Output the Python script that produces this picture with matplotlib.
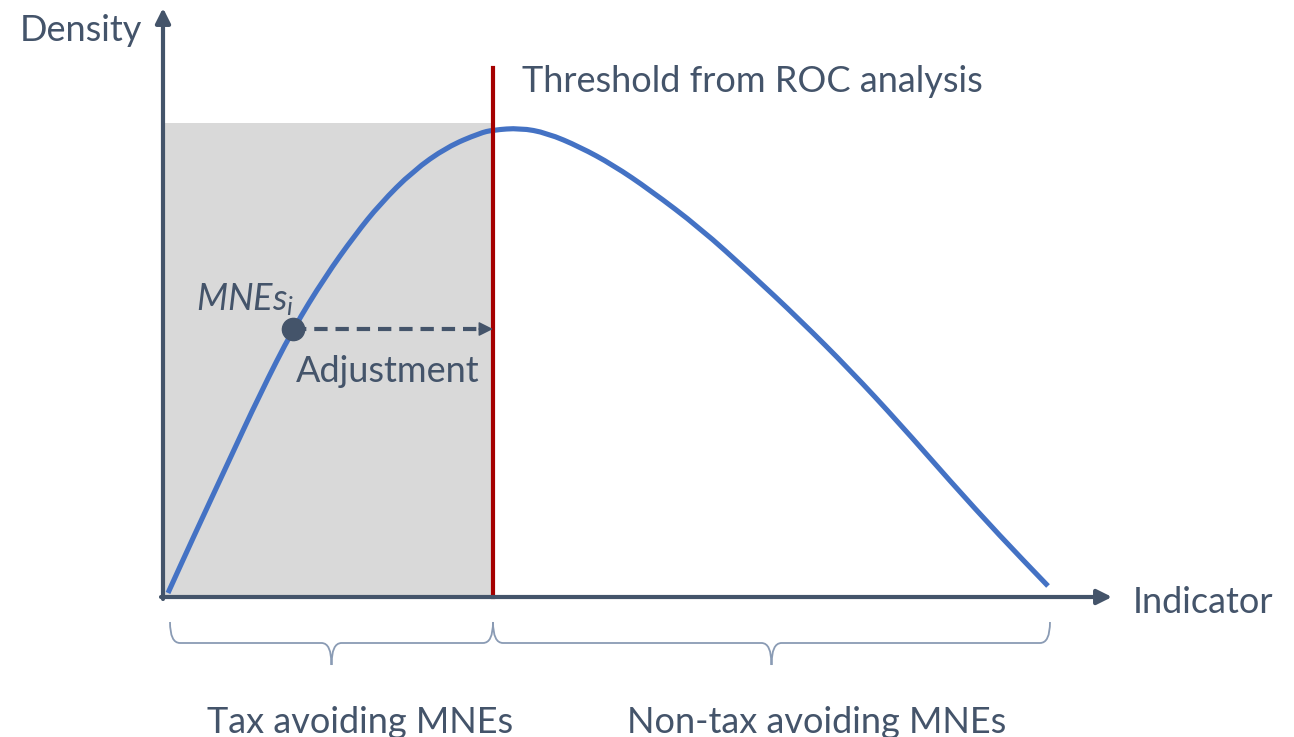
import matplotlib
matplotlib.use("Agg")
import matplotlib.pyplot as plt
from matplotlib.path import Path
from matplotlib.patches import PathPatch, Rectangle

plt.rcParams['font.family'] = ['Lato', 'DejaVu Sans']
plt.rcParams['mathtext.fontset'] = 'custom'
plt.rcParams['mathtext.rm'] = 'Lato'
plt.rcParams['mathtext.it'] = 'Lato:italic'

# ---- data (indicator vs density, schematic units) ----
indicator = [5, 30, 64, 97, 130, 162, 192, 217, 250, 284, 317, 330, 357, 384,
             417, 450, 487, 537, 587, 637, 687, 737, 787, 837, 885]
density = [4, 59, 132, 203, 268, 320, 362, 393, 426, 450, 464, 467, 469, 464,
           450, 432, 407, 369, 324, 277, 227, 173, 116, 61, 11]
threshold = 330
shade_top = 474
mne_point = (130, 268)
x_axis_end = 949
y_axis_end = 589
groups = ["Tax avoiding MNEs", "Non-tax avoiding MNEs"]
group_spans = [(7, 330), (330, 887)]

TXT = '#44546A'
BLUE = '#4472C4'
RED = '#A50000'
GRAY = '#D9D9D9'
BRACE = '#8A9BB4'

fig = plt.figure(figsize=(12.94, 7.37), dpi=100)
ax = fig.add_axes([0, 0, 1, 1])
ax.set_xlim(-163, 1131)
ax.set_ylim(-140, 597)
ax.axis('off')

# shaded region
ax.add_patch(Rectangle((0, 0), threshold, shade_top, facecolor=GRAY, edgecolor='none', zorder=1))

# curve: smooth quadratic path through the midpoints of the read points
pts = list(zip(indicator, density))
verts = [pts[0]]
codes = [Path.MOVETO]
mid = lambda a, b: ((a[0] + b[0]) / 2, (a[1] + b[1]) / 2)
verts.append(mid(pts[0], pts[1])); codes.append(Path.LINETO)
for i in range(1, len(pts) - 1):
    verts += [pts[i], mid(pts[i], pts[i + 1])]
    codes += [Path.CURVE3, Path.CURVE3]
verts.append(pts[-1]); codes.append(Path.LINETO)
ax.add_patch(PathPatch(Path(verts, codes), facecolor='none', edgecolor=BLUE,
                       lw=3.7, capstyle='butt', zorder=3))

# threshold line
ax.plot([threshold, threshold], [0, 529], color=RED, lw=3.0, zorder=4)

# axes arrows
ax.annotate('', xy=(x_axis_end, 0), xytext=(-2, 0),
            arrowprops=dict(arrowstyle='-|>', lw=3.0, color=TXT, mutation_scale=22,
                            shrinkA=0, shrinkB=0), zorder=5)
ax.annotate('', xy=(0, y_axis_end), xytext=(0, -2),
            arrowprops=dict(arrowstyle='-|>', lw=3.0, color=TXT, mutation_scale=22,
                            shrinkA=0, shrinkB=0), zorder=5)

# adjustment arrow
mx, my = mne_point
ax.plot([mx, threshold - 12], [my, my], color=TXT, lw=3.0, dashes=(3.2, 1.9), zorder=5)
ax.annotate('', xy=(threshold, my), xytext=(threshold - 14, my),
            arrowprops=dict(arrowstyle='-|>', lw=1, color=TXT, mutation_scale=22,
                            shrinkA=0, shrinkB=0), zorder=6)
ax.plot([mx], [my], 'o', color=TXT, markersize=16, zorder=7)

# texts
fs = 26
ax.text(-143, 556, 'Density', fontsize=fs, color=TXT, ha='left', va='baseline')
ax.text(359, 505, 'Threshold from ROC analysis', fontsize=fs, color=TXT, ha='left', va='baseline')
ax.text(970, -16, 'Indicator', fontsize=fs, color=TXT, ha='left', va='baseline')
ax.text(33, 287, r'$\mathit{MNEs}_i$', fontsize=fs, color=TXT, ha='left', va='baseline')
ax.text(133, 215, 'Adjustment', fontsize=fs, color=TXT, ha='left', va='baseline')


def brace(x0, x1, ytop=-25, ymid=-46, ytip=-68):
    xm = (x0 + x1) / 2
    v = [(x0, ytop), (x0, ymid), (x0 + 10, ymid),
         (xm - 10, ymid), (xm, ymid), (xm, ytip),
         (xm, ymid), (xm + 10, ymid),
         (x1 - 10, ymid), (x1, ymid), (x1, ytop)]
    c = [Path.MOVETO, Path.CURVE3, Path.CURVE3,
         Path.LINETO, Path.CURVE3, Path.CURVE3,
         Path.CURVE3, Path.CURVE3,
         Path.LINETO, Path.CURVE3, Path.CURVE3]
    ax.add_patch(PathPatch(Path(v, c), facecolor='none', edgecolor=BRACE, lw=1.3))


for (a, b), label in zip(group_spans, groups):
    brace(a, b)

ax.text(197, -136, groups[0], fontsize=fs, color=TXT, ha='center', va='baseline')
ax.text(654, -136, groups[1], fontsize=fs, color=TXT, ha='center', va='baseline')

fig.savefig('out.png', dpi=100)
